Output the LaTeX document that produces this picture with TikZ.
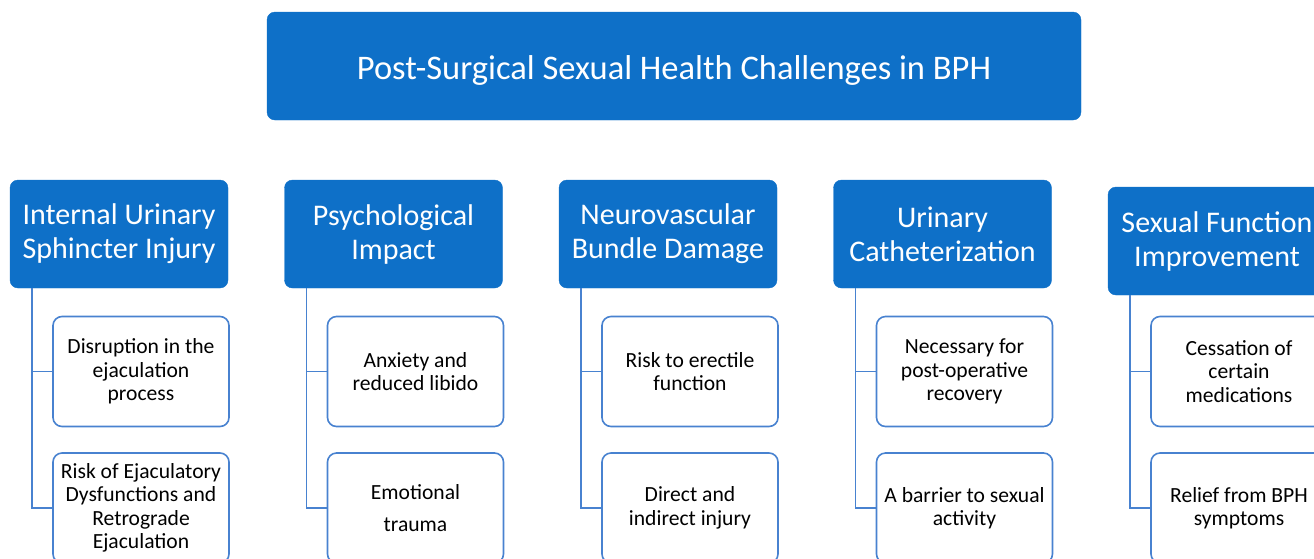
\documentclass[tikz,border=0pt]{standalone}
\usepackage{fontspec}
\setmainfont{Carlito}
\usetikzlibrary{positioning}

\definecolor{bphblue}{RGB}{14,112,200}
\definecolor{bphline}{RGB}{72,130,208}

\begin{document}
\begin{tikzpicture}[x=1pt, y=-1pt,
  header/.style={draw=bphblue, fill=bphblue, rounded corners=8pt, text=white,
    align=center, inner sep=0pt},
  catbox/.style={header, minimum width=218pt, minimum height=108pt,
    font=\fontsize{30}{34}\selectfont},
  subbox/.style={draw=bphline, line width=1.6pt, fill=white, rounded corners=9pt,
    minimum width=176pt, minimum height=110pt, align=center, inner sep=0pt,
    font=\fontsize{21.6}{23.5}\selectfont},
  link/.style={draw=bphline, line width=1.6pt}]
  \useasboundingbox (0,0) rectangle (1314,558);
  \clip (0,0) rectangle (1314,558);

  % Title bar
  \node[header, minimum width=814pt, minimum height=108pt] (title) at (674,66) {};
  \node[text=white, font=\fontsize{34.5}{40}\selectfont] (titletext)
    at ([yshift=-4pt]title.center)
    {Post-Surgical Sexual Health Challenges in BPH};

  % Columns: heading box, two sub-boxes, spine on the left
  \foreach \i/\dy/\cat/\sa/\sb in {
    0/0/{Internal Urinary\\Sphincter Injury}/{Disruption in the\\ejaculation\\process}/{Risk of Ejaculatory\\Dysfunctions and\\Retrograde\\Ejaculation},
    1/0/{Psychological\\Impact}/{Anxiety and\\reduced libido}/{Emotional\\[9pt]trauma},
    2/0/{Neurovascular\\Bundle Damage}/{Risk to erectile\\function}/{Direct and\\indirect injury},
    3/0/{Urinary\\Catheterization}/{Necessary for\\post-operative\\recovery}/{A barrier to sexual\\activity},
    4/7/{Sexual Function\\Improvement}/{Cessation of\\certain\\medications}/{Relief from BPH\\symptoms}} {
    \pgfmathsetmacro{\colx}{10+274.5*\i}
    \node[catbox] (cat\i) at (\colx+109, 234+\dy) {\cat};
    \node[subbox] (sub\i a) at (\colx+131, 371.5) {\sa};
    \node[subbox] (sub\i b) at (\colx+131, 508) {\sb};
    \coordinate (spine\i) at (\colx+22, 0);
    \draw[link] (cat\i.south -| spine\i) |- (sub\i b.west);
    \draw[link] (cat\i.south -| spine\i) |- (sub\i a.west);
  }
\end{tikzpicture}
\end{document}
